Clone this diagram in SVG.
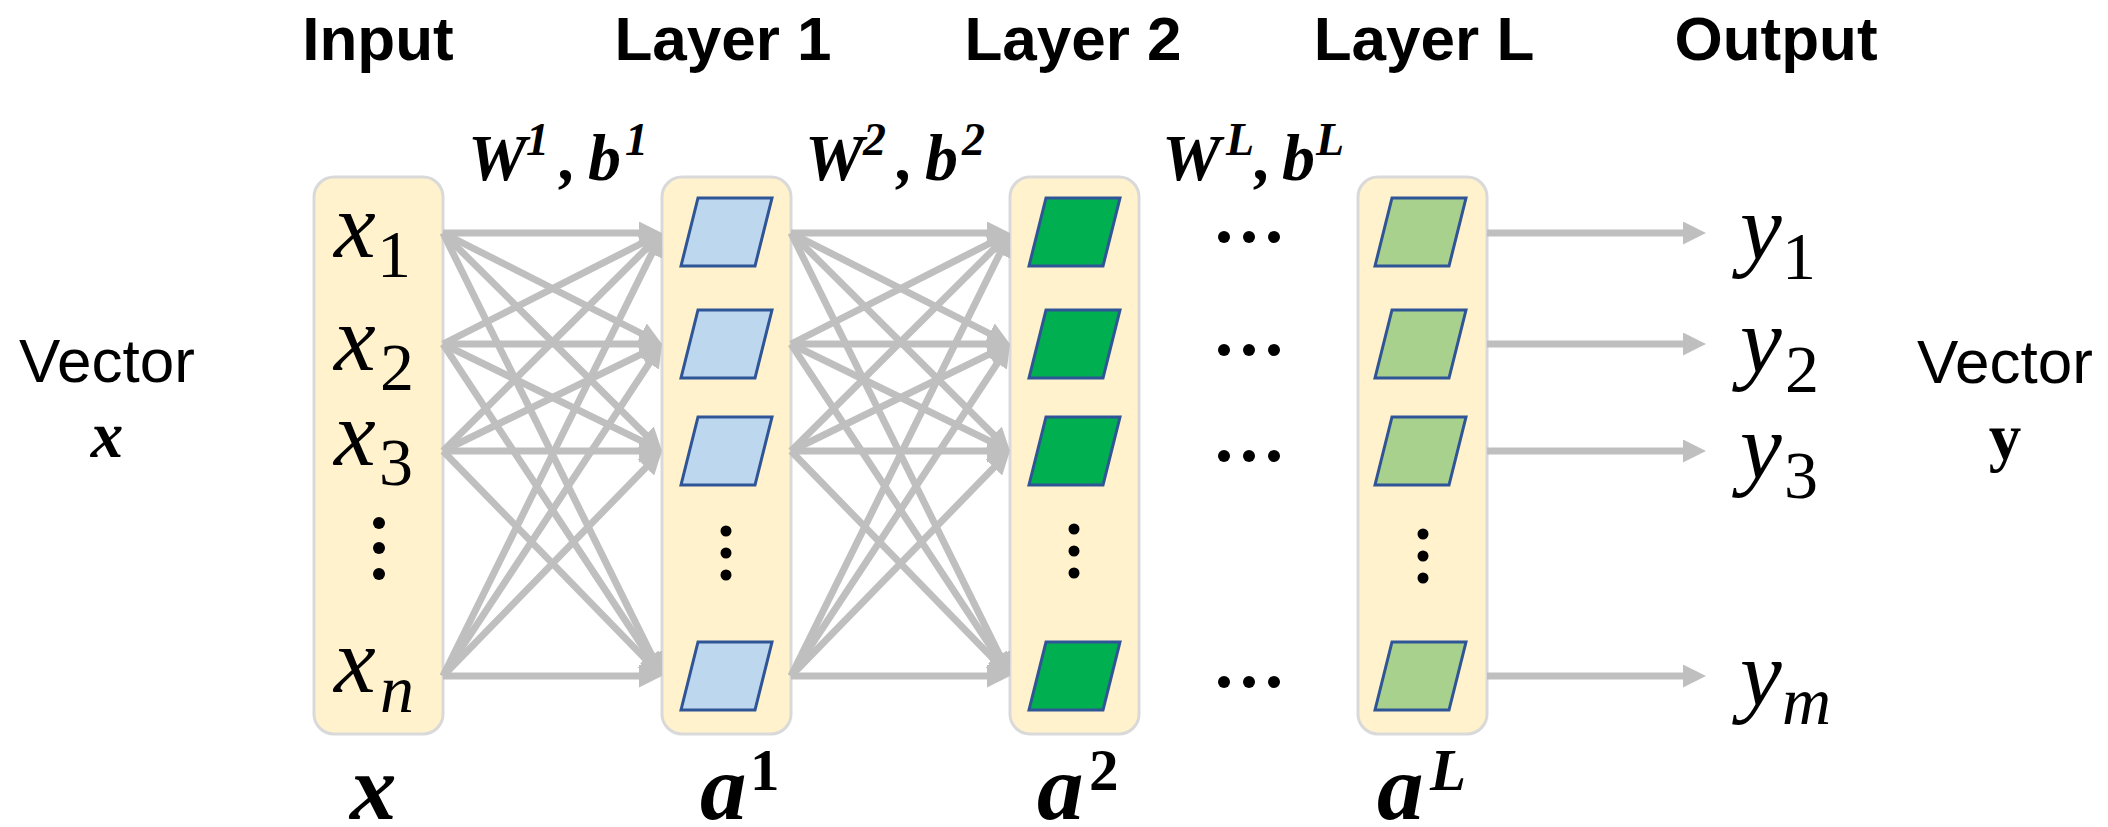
<svg xmlns="http://www.w3.org/2000/svg" width="2108" height="827" viewBox="0 0 2108 827">
  <style>
    .box { fill: #FFF2CC; stroke: #D9D9D9; stroke-width: 3; }
    .cell { stroke: #2F5597; stroke-width: 3; stroke-linejoin: miter; }
    .c1 { fill: #BDD7EE; }
    .c2 { fill: #00B050; }
    .cL { fill: #A9D18E; }
    .dot { fill: #000000; }
    .conn { stroke: #BFBFBF; stroke-width: 7; fill: none; marker-end: url(#head); }
    .title { font-family: "Liberation Sans", Arial, sans-serif; font-weight: bold; font-size: 62px; fill: #000; text-anchor: middle; }
    .plain { font-family: "Liberation Sans", Arial, sans-serif; font-size: 62px; fill: #000; text-anchor: middle; }
    .m { font-family: "Liberation Serif", "Times New Roman", serif; font-style: italic; font-size: 94px; fill: #000; }
    .sub { font-family: "Liberation Serif", "Times New Roman", serif; font-size: 68px; fill: #000; }
    .subi { font-family: "Liberation Serif", "Times New Roman", serif; font-style: italic; font-size: 68px; fill: #000; }
    .wb { font-family: "Liberation Serif", "Times New Roman", serif; font-style: italic; font-weight: bold; font-size: 66px; fill: #000; }
    .wbs { font-size: 46px; }
    .big { font-family: "Liberation Serif", "Times New Roman", serif; font-style: italic; font-weight: bold; font-size: 93px; fill: #000; }
    .bigs { font-family: "Liberation Serif", "Times New Roman", serif; font-weight: bold; font-size: 59px; fill: #000; }
    .bigsi { font-family: "Liberation Serif", "Times New Roman", serif; font-style: italic; font-weight: bold; font-size: 59px; fill: #000; }
    .vx { font-family: "Liberation Serif", "Times New Roman", serif; font-style: italic; font-weight: bold; font-size: 65px; fill: #000; text-anchor: middle; }
    .vy { font-family: "Liberation Serif", "Times New Roman", serif; font-weight: bold; font-size: 65px; fill: #000; text-anchor: middle; }
  </style>
  <defs>
    <marker id="head" markerUnits="userSpaceOnUse" markerWidth="23" markerHeight="23" viewBox="0 0 23 23" refX="12" refY="11.5" orient="auto">
      <path d="M0,0 L23,11.5 L0,23 Z" fill="#BFBFBF"/>
    </marker>
    <!-- one neuron cell, placed relative to its layer's left edge -->
    <polygon id="cellShape" points="36,0 110,0 93,68 19,68"/>
  </defs>

  <rect width="2108" height="827" fill="#FFFFFF"/>

  <!-- column titles -->
  <g id="titles">
    <text class="title" x="378" y="60">Input</text>
    <text class="title" x="723" y="60">Layer 1</text>
    <text class="title" x="1073" y="60">Layer 2</text>
    <text class="title" x="1424" y="60">Layer L</text>
    <text class="title" x="1776" y="60">Output</text>
  </g>

  <!-- weight / bias labels -->
  <g id="params">
    <text class="wb" y="180"><tspan x="468">W</tspan><tspan class="wbs" x="526" y="155">1</tspan><tspan x="560" y="180">,</tspan><tspan x="588">b</tspan><tspan class="wbs" x="625" y="155">1</tspan></text>
    <text class="wb" y="180"><tspan x="805">W</tspan><tspan class="wbs" x="863" y="155">2</tspan><tspan x="897" y="180">,</tspan><tspan x="925">b</tspan><tspan class="wbs" x="962" y="155">2</tspan></text>
    <text class="wb" y="180"><tspan x="1162">W</tspan><tspan class="wbs" x="1226" y="155">L</tspan><tspan x="1255" y="180">,</tspan><tspan x="1282">b</tspan><tspan class="wbs" x="1316" y="155">L</tspan></text>
  </g>

  <!-- input vector -->
  <g id="input">
    <rect class="box" x="314" y="177" width="129" height="557" rx="20"/>
    <text class="m" x="334" y="257">x</text><text class="sub" x="377" y="277">1</text>
    <text class="m" x="334" y="370">x</text><text class="sub" x="380" y="390">2</text>
    <text class="m" x="334" y="465">x</text><text class="sub" x="379" y="485">3</text>
    <circle class="dot" cx="379" cy="523" r="6"/>
    <circle class="dot" cx="379" cy="548" r="6"/>
    <circle class="dot" cx="379" cy="574" r="6"/>
    <text class="m" x="334" y="692">x</text><text class="subi" x="380" y="712">n</text>
    <text class="big" x="350" y="819">x</text>
  </g>

  <!-- hidden layer 1 -->
  <g id="layer1">
    <rect class="box" x="662" y="177" width="129" height="557" rx="20"/>
    <use href="#cellShape" class="cell c1" x="662" y="198"/>
    <use href="#cellShape" class="cell c1" x="662" y="310"/>
    <use href="#cellShape" class="cell c1" x="662" y="417"/>
    <circle class="dot" cx="726" cy="531" r="5.5"/>
    <circle class="dot" cx="726" cy="553" r="5.5"/>
    <circle class="dot" cx="726" cy="575" r="5.5"/>
    <use href="#cellShape" class="cell c1" x="662" y="642"/>
    <text class="big" x="700" y="819">a</text><text class="bigs" x="750" y="790">1</text>
  </g>

  <!-- hidden layer 2 -->
  <g id="layer2">
    <rect class="box" x="1010" y="177" width="129" height="557" rx="20"/>
    <use href="#cellShape" class="cell c2" x="1010" y="198"/>
    <use href="#cellShape" class="cell c2" x="1010" y="310"/>
    <use href="#cellShape" class="cell c2" x="1010" y="417"/>
    <circle class="dot" cx="1074" cy="529" r="5.5"/>
    <circle class="dot" cx="1074" cy="551" r="5.5"/>
    <circle class="dot" cx="1074" cy="573" r="5.5"/>
    <use href="#cellShape" class="cell c2" x="1010" y="642"/>
    <text class="big" x="1037" y="819">a</text><text class="bigs" x="1089" y="790">2</text>
  </g>

  <!-- ellipses between layer 2 and layer L -->
  <g id="gap">
    <circle class="dot" cx="1224" cy="237" r="6"/><circle class="dot" cx="1249" cy="237" r="6"/><circle class="dot" cx="1274" cy="237" r="6"/>
    <circle class="dot" cx="1224" cy="350" r="6"/><circle class="dot" cx="1249" cy="350" r="6"/><circle class="dot" cx="1274" cy="350" r="6"/>
    <circle class="dot" cx="1224" cy="456" r="6"/><circle class="dot" cx="1249" cy="456" r="6"/><circle class="dot" cx="1274" cy="456" r="6"/>
    <circle class="dot" cx="1224" cy="682" r="6"/><circle class="dot" cx="1249" cy="682" r="6"/><circle class="dot" cx="1274" cy="682" r="6"/>
  </g>

  <!-- last layer L -->
  <g id="layerL">
    <rect class="box" x="1358" y="177" width="129" height="557" rx="20"/>
    <use href="#cellShape" class="cell cL" x="1356" y="198"/>
    <use href="#cellShape" class="cell cL" x="1356" y="310"/>
    <use href="#cellShape" class="cell cL" x="1356" y="417"/>
    <circle class="dot" cx="1423" cy="534" r="5.5"/>
    <circle class="dot" cx="1423" cy="556" r="5.5"/>
    <circle class="dot" cx="1423" cy="578" r="5.5"/>
    <use href="#cellShape" class="cell cL" x="1356" y="642"/>
    <text class="big" x="1377" y="819">a</text><text class="bigsi" x="1430" y="790">L</text>
  </g>

  <!-- output vector components -->
  <g id="output">
    <text class="m" x="1740" y="259">y</text><text class="sub" x="1782" y="279">1</text>
    <text class="m" x="1740" y="372">y</text><text class="sub" x="1785" y="392">2</text>
    <text class="m" x="1740" y="478">y</text><text class="sub" x="1784" y="498">3</text>
    <text class="m" x="1740" y="705">y</text><text class="subi" x="1782" y="724">m</text>
  </g>

  <!-- side captions -->
  <g id="vectorX">
    <text class="plain" x="107" y="382">Vector</text>
    <text class="vx" x="107" y="457">x</text>
  </g>
  <g id="vectorY">
    <text class="plain" x="2005" y="383">Vector</text>
    <text class="vy" x="2005" y="459">y</text>
  </g>

  <!-- connections -->
  <g id="connectors">
    <!-- input -> layer 1 -->
    <line class="conn" x1="443" y1="233" x2="651" y2="233"/>
    <line class="conn" x1="443" y1="233" x2="652.2" y2="339"/>
    <line class="conn" x1="443" y1="233" x2="654.2" y2="443.2"/>
    <line class="conn" x1="443" y1="233" x2="657.1" y2="666.1"/>
    <line class="conn" x1="443" y1="344" x2="652.2" y2="238"/>
    <line class="conn" x1="443" y1="344" x2="651" y2="344"/>
    <line class="conn" x1="443" y1="344" x2="652.1" y2="446.2"/>
    <line class="conn" x1="443" y1="344" x2="655.9" y2="666.8"/>
    <line class="conn" x1="443" y1="451" x2="654.2" y2="240.8"/>
    <line class="conn" x1="443" y1="451" x2="652.1" y2="348.8"/>
    <line class="conn" x1="443" y1="451" x2="651" y2="451"/>
    <line class="conn" x1="443" y1="451" x2="654.3" y2="668.1"/>
    <line class="conn" x1="443" y1="676" x2="657.1" y2="242.9"/>
    <line class="conn" x1="443" y1="676" x2="655.9" y2="353.2"/>
    <line class="conn" x1="443" y1="676" x2="654.3" y2="458.9"/>
    <line class="conn" x1="443" y1="676" x2="651" y2="676"/>
    <!-- layer 1 -> layer 2 -->
    <line class="conn" x1="791" y1="233" x2="999" y2="233"/>
    <line class="conn" x1="791" y1="233" x2="1000.2" y2="339"/>
    <line class="conn" x1="791" y1="233" x2="1002.2" y2="443.2"/>
    <line class="conn" x1="791" y1="233" x2="1005.1" y2="666.1"/>
    <line class="conn" x1="791" y1="344" x2="1000.2" y2="238"/>
    <line class="conn" x1="791" y1="344" x2="999" y2="344"/>
    <line class="conn" x1="791" y1="344" x2="1000.1" y2="446.2"/>
    <line class="conn" x1="791" y1="344" x2="1003.9" y2="666.8"/>
    <line class="conn" x1="791" y1="451" x2="1002.2" y2="240.8"/>
    <line class="conn" x1="791" y1="451" x2="1000.1" y2="348.8"/>
    <line class="conn" x1="791" y1="451" x2="999" y2="451"/>
    <line class="conn" x1="791" y1="451" x2="1002.3" y2="668.1"/>
    <line class="conn" x1="791" y1="676" x2="1005.1" y2="242.9"/>
    <line class="conn" x1="791" y1="676" x2="1003.9" y2="353.2"/>
    <line class="conn" x1="791" y1="676" x2="1002.3" y2="458.9"/>
    <line class="conn" x1="791" y1="676" x2="999" y2="676"/>
    <!-- layer L -> outputs -->
    <line class="conn" x1="1487" y1="233" x2="1695" y2="233"/>
    <line class="conn" x1="1487" y1="344" x2="1695" y2="344"/>
    <line class="conn" x1="1487" y1="451" x2="1695" y2="451"/>
    <line class="conn" x1="1487" y1="676" x2="1695" y2="676"/>
  </g>
</svg>
